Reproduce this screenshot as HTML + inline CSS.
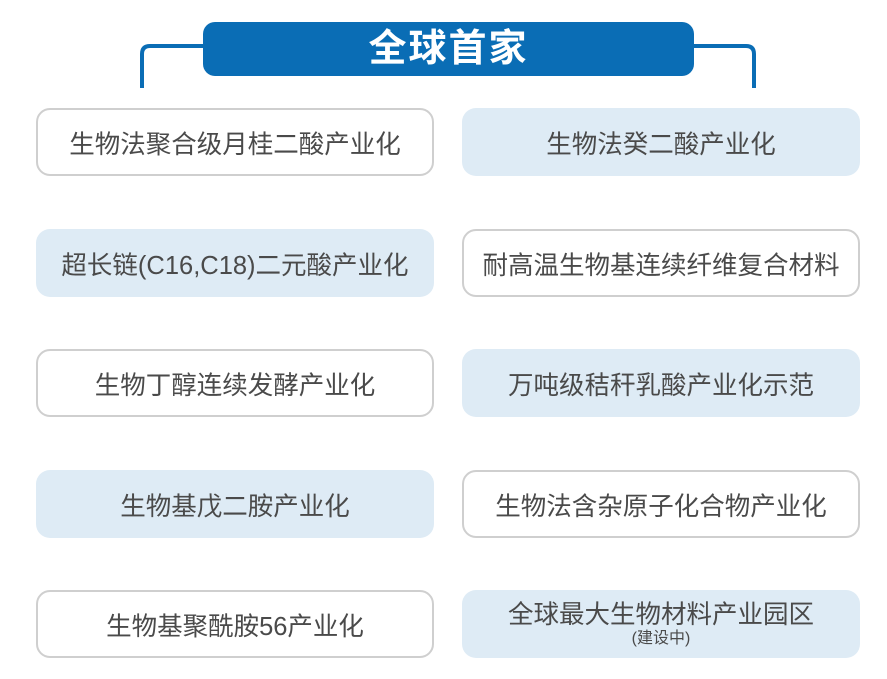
<!DOCTYPE html>
<html><head><meta charset="utf-8"><style>
body{margin:0;width:887px;height:679px;background:#fff;position:relative;overflow:hidden;font-family:"Liberation Sans","Noto Sans CJK SC",sans-serif}
.t{position:absolute;left:203px;top:22px;width:491px;height:54px;background:#0a6db5;border-radius:12px;color:#fff;font-size:38px;font-weight:bold;text-align:center;line-height:54px;letter-spacing:2px}
.b{position:absolute;box-sizing:border-box;width:398px;height:68px;border-radius:14px;display:flex;align-items:center;justify-content:center;flex-direction:column;color:#4a4a4a;font-size:25.5px;white-space:nowrap}
.w{background:#fff;border:2.5px solid #cfcfcf}
.f{background:#deebf5}
.L{left:36px}.R{left:462px}
small{font-size:16px;line-height:18px}
</style></head><body>
<svg style="position:absolute;left:0;top:0" width="887" height="679">
<path d="M142 88 V54 Q142 46 150 46 H205" fill="none" stroke="#0a6db5" stroke-width="4"/>
<path d="M692 46 H746 Q754 46 754 54 V88" fill="none" stroke="#0a6db5" stroke-width="4"/>
</svg>
<div class="t">全球首家</div>
<div class="b w L" style="top:108px">生物法聚合级月桂二酸产业化</div>
<div class="b f R" style="top:108px">生物法癸二酸产业化</div>
<div class="b f L" style="top:229px">超长链(C16,C18)二元酸产业化</div>
<div class="b w R" style="top:229px">耐高温生物基连续纤维复合材料</div>
<div class="b w L" style="top:349px">生物丁醇连续发酵产业化</div>
<div class="b f R" style="top:349px">万吨级秸秆乳酸产业化示范</div>
<div class="b f L" style="top:470px">生物基戊二胺产业化</div>
<div class="b w R" style="top:470px">生物法含杂原子化合物产业化</div>
<div class="b w L" style="top:590px">生物基聚酰胺56产业化</div>
<div class="b f R" style="top:590px"><span style="line-height:30px">全球最大生物材料产业园区</span><small>(建设中)</small></div>
</body></html>
